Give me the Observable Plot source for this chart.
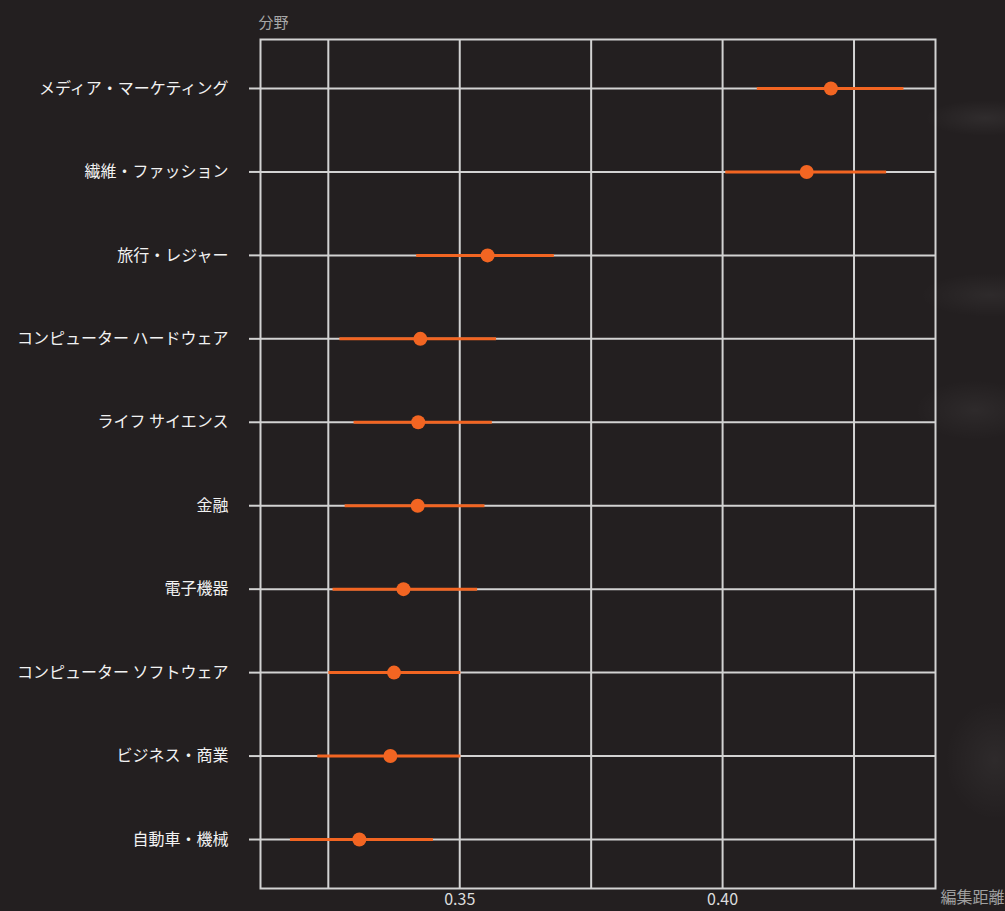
<!DOCTYPE html>
<html lang="ja">
<head>
<meta charset="utf-8">
<script src="https://cdn.jsdelivr.net/npm/d3@7"></script>
<script src="https://cdn.jsdelivr.net/npm/@observablehq/plot@0.6"></script>
<style>
  html, body { margin: 0; padding: 0; }
  body {
    width: 1005px; height: 911px; overflow: hidden;
    background-color: #231f20;
    background-image:
      radial-gradient(ellipse 60px 18px at 985px 118px, rgba(255,255,255,0.06), transparent),
      radial-gradient(ellipse 70px 22px at 990px 295px, rgba(255,255,255,0.05), transparent),
      radial-gradient(ellipse 60px 30px at 975px 410px, rgba(255,255,255,0.05), transparent),
      radial-gradient(ellipse 50px 60px at 995px 760px, rgba(255,255,255,0.05), transparent);
    font-family: "Noto Sans CJK JP", "Noto Sans", sans-serif;
  }
  #chart svg { display: block; }
</style>
</head>
<body>
<div id="chart"></div>
<script>
// 分野ごとの編集距離：平均値と区間（上から下の順）
const fields = [
  "メディア・マーケティング",
  "繊維・ファッション",
  "旅行・レジャー",
  "コンピューター ハードウェア",
  "ライフ サイエンス",
  "金融",
  "電子機器",
  "コンピューター ソフトウェア",
  "ビジネス・商業",
  "自動車・機械"
];
const meanDistance = [0.4206, 0.4160, 0.3553, 0.3425, 0.3421, 0.3420, 0.3393, 0.3375, 0.3368, 0.3309];
const lowerBound   = [0.4066, 0.4006, 0.3418, 0.3272, 0.3299, 0.3282, 0.3259, 0.3251, 0.3230, 0.3178];
const upperBound   = [0.4345, 0.4312, 0.3680, 0.3570, 0.3562, 0.3548, 0.3534, 0.3502, 0.3502, 0.3450];
const gridTicks  = [0.325, 0.35, 0.375, 0.40, 0.425];
const labelTicks = [0.35, 0.40];

const rows = fields.map((field, i) => ({
  field, mean: meanDistance[i], lo: lowerBound[i], hi: upperBound[i]
}));

const gridColor = "#d2d2d2";
const accent = "#f26522";

const chart = Plot.plot({
  width: 1005,
  height: 911,
  marginLeft: 260,
  marginRight: 70,
  marginTop: 39,
  marginBottom: 23,
  style: { background: "transparent", fontFamily: "'Noto Sans CJK JP', 'Noto Sans', sans-serif" },
  x: { domain: [0.3121, 0.4405] },
  y: { type: "point", domain: fields, padding: 0.587, round: false },
  marks: [
    Plot.ruleX(gridTicks, { stroke: gridColor, strokeWidth: 2 }),
    Plot.ruleY(fields, { y: d => d, stroke: gridColor, strokeWidth: 2 }),
    Plot.frame({ stroke: gridColor, strokeWidth: 2 }),
    Plot.axisY({
      tickSize: 11, tickPadding: 21, stroke: gridColor, strokeWidth: 2,
      fill: "#f2f2f2", fontSize: 16, label: null
    }),
    Plot.axisX({
      ticks: labelTicks, tickSize: 0, tickPadding: 5, tickFormat: d3.format(".2f"),
      fill: "#dcdcdc", fontSize: 16, label: null
    }),
    Plot.ruleY(rows, { y: "field", x1: "lo", x2: "hi", stroke: accent, strokeWidth: 3 }),
    Plot.dot(rows, { y: "field", x: "mean", r: 7, fill: accent, stroke: null }),
    Plot.text(["分野"], {
      frameAnchor: "top-left", text: d => d, textAnchor: "start",
      dx: -2, dy: -22, fill: "#a8a8a8", fontSize: 15
    }),
    Plot.text(["編集距離"], {
      frameAnchor: "bottom-right", text: d => d, textAnchor: "start",
      dx: 5, dy: 14, fill: "#a0a0a0", fontSize: 16
    })
  ]
});

document.getElementById("chart").appendChild(chart);
</script>
</body>
</html>
